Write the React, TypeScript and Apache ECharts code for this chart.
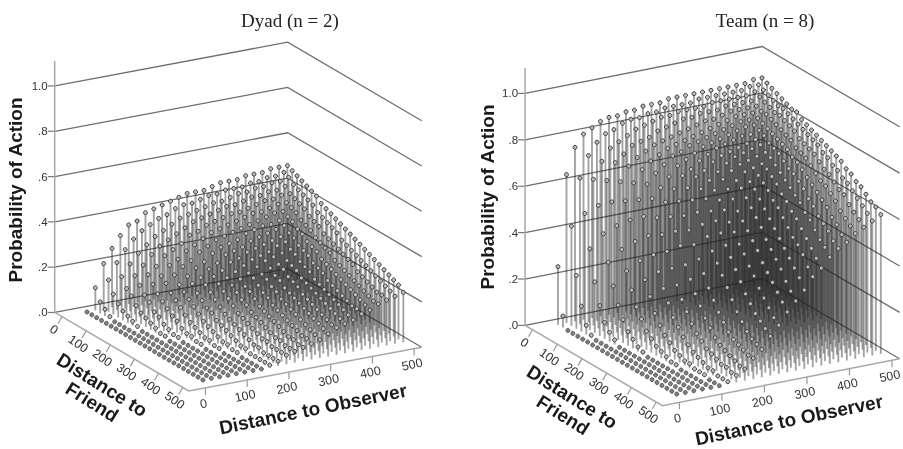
import React, { useEffect, useRef } from "react";
import * as echarts from "echarts";

// Probability of action, in percent. One row per observer distance (20..500), one column per friend distance (0..480).
const observerSteps = [20,40,60,80,100,120,140,160,180,200,220,240,260,280,300,320,340,360,380,400,420,440,460,480,500];
const friendSteps = [0,20,40,60,80,100,120,140,160,180,200,220,240,260,280,300,320,340,360,380,400,420,440,460,480];

const dyadValues = [
[0,0,0,0,0,0,0,0,0,0,0,0,0,0,0,0,0,0,0,0,0,0,0,0,0],
[10,5,3,1,0,0,0,0,0,0,0,0,0,0,0,0,0,0,0,0,0,0,0,0,0],
[20,14,9,6,4,3,2,1,0,0,0,0,0,0,0,0,0,0,0,0,0,0,0,0,0],
[26,21,16,12,10,7,5,4,3,2,1,1,0,0,0,0,0,0,0,0,0,0,0,0,0],
[31,26,21,17,14,11,9,6,5,3,2,1,1,0,0,0,0,0,0,0,0,0,0,0,0],
[35,30,25,21,18,15,12,10,8,6,5,3,2,2,1,1,0,0,0,0,0,0,0,0,0],
[36,33,28,25,21,18,16,13,11,9,7,5,4,3,2,2,1,1,0,0,0,0,0,0,0],
[39,35,31,28,25,22,19,16,14,12,10,8,6,5,4,3,2,2,1,1,0,0,0,0,0],
[40,37,33,30,27,24,22,19,17,14,12,10,9,7,6,5,4,3,2,2,1,1,1,1,1],
[41,38,35,32,29,27,24,22,19,17,15,13,11,9,8,7,6,5,4,3,3,2,2,2,2],
[42,40,37,34,32,29,27,24,22,20,18,16,14,12,10,9,8,7,6,5,5,4,4,4,4],
[43,41,38,36,33,31,29,27,24,22,20,18,16,14,13,11,10,9,8,7,6,6,5,5,5],
[44,41,39,37,35,33,31,29,27,25,22,20,18,17,15,13,12,11,10,9,8,7,7,6,6],
[44,42,40,38,36,34,32,30,28,26,24,22,21,19,17,16,14,13,12,11,10,9,8,8,7],
[44,43,41,39,37,35,33,31,29,28,26,24,22,21,19,18,16,15,14,13,12,11,10,9,8],
[45,43,41,40,38,36,34,33,31,29,27,26,24,22,21,19,18,17,16,15,14,13,12,11,10],
[46,44,42,40,38,37,35,34,32,30,28,27,25,24,22,21,20,18,17,16,15,14,13,12,12],
[46,44,43,41,39,38,36,35,33,31,30,28,26,25,24,22,21,20,19,18,17,16,15,14,13],
[46,44,43,42,40,38,37,35,34,32,31,29,28,26,25,24,22,21,20,19,18,17,16,15,14],
[47,45,44,42,41,39,38,36,35,33,32,30,29,28,26,25,24,22,21,20,19,18,17,17,16],
[47,45,44,43,41,40,38,37,36,34,33,31,30,29,27,26,25,24,23,22,21,20,19,18,17],
[47,46,45,43,42,40,39,38,36,35,34,32,31,30,29,27,26,25,24,23,22,21,20,19,19],
[48,46,45,44,42,41,40,39,37,36,35,33,32,31,30,29,28,27,25,24,23,22,21,21,20],
[48,47,46,44,43,42,41,40,38,37,36,35,34,32,31,30,29,28,27,26,25,24,23,22,21],
[48,47,46,45,44,43,42,40,39,38,37,36,35,34,33,32,31,30,29,28,27,26,25,24,22],
];

const teamValues = [
[25,5,0,0,0,0,0,0,0,0,0,0,0,0,0,0,0,0,0,0,0,0,0,0,0],
[64,43,23,11,4,1,0,0,0,0,0,0,0,0,0,0,0,0,0,0,0,0,0,0,0],
[75,63,49,35,22,13,7,4,2,0,0,0,0,0,0,0,0,0,0,0,0,0,0,0,0],
[80,72,63,53,42,31,22,15,10,6,4,2,1,0,0,0,0,0,0,0,0,0,0,0,0],
[82,77,70,63,55,46,37,29,22,16,12,8,6,4,3,2,1,1,0,0,0,0,0,0,0],
[84,80,75,70,63,56,49,41,34,27,21,15,11,8,6,4,3,2,2,1,1,1,0,0,0],
[85,81,77,73,69,63,57,51,44,37,31,25,20,15,12,9,7,5,4,3,2,2,1,1,1],
[85,83,79,76,72,68,63,58,51,45,39,33,27,22,18,14,11,9,7,6,5,4,4,3,3],
[86,84,81,77,74,71,67,62,57,52,47,42,35,30,25,21,17,14,11,9,8,7,6,5,5],
[86,84,82,78,76,73,70,66,62,58,53,48,43,38,33,28,24,20,17,14,12,11,10,9,9],
[87,85,83,80,77,75,73,70,67,63,59,55,51,47,42,38,34,30,26,22,19,16,14,13,12],
[87,85,84,81,78,76,74,72,69,67,63,60,56,53,49,45,41,37,33,29,26,23,21,19,17],
[87,86,84,82,79,77,76,74,72,69,66,63,60,57,53,50,46,43,39,36,32,29,26,23,21],
[88,86,85,83,80,78,77,76,74,72,69,67,64,61,57,54,51,48,45,41,38,35,32,29,26],
[88,86,85,83,81,79,78,77,76,74,72,70,67,65,62,59,56,53,49,46,43,40,36,33,30],
[88,86,85,84,82,80,79,78,77,75,74,72,70,67,65,62,59,56,53,50,47,44,41,38,34],
[88,87,85,84,82,81,80,79,78,76,75,73,71,69,67,65,62,60,57,54,51,49,46,42,39],
[88,87,86,84,83,82,81,80,79,77,76,74,72,71,69,67,64,62,59,57,54,51,48,45,42],
[88,87,86,85,84,83,82,81,79,78,77,75,74,72,70,68,66,64,62,59,57,54,51,49,46],
[88,87,86,85,84,83,82,81,80,79,77,76,75,73,71,70,68,66,63,61,58,56,54,51,49],
[88,87,86,85,84,83,82,81,80,79,78,77,76,74,73,71,69,67,65,63,61,58,56,53,51],
[88,87,86,85,84,83,83,82,81,80,79,78,76,75,74,72,70,68,67,65,63,60,58,56,54],
[88,88,87,86,85,84,83,83,82,81,80,78,77,76,75,73,71,70,68,66,65,62,60,58,56],
[89,88,87,86,85,84,84,83,82,81,80,79,78,77,75,74,72,71,69,68,66,64,62,60,58],
[89,88,87,86,85,84,83,83,81,80,79,78,77,76,75,74,73,71,70,68,67,65,63,62,60],
];

const probabilityTicks = [0, 0.2, 0.4, 0.6, 0.8, 1];
const probabilityLabels = [".0", ".2", ".4", ".6", ".8", "1.0"];
const distanceTicks = [0, 100, 200, 300, 400, 500];
const panelTitles = ["Dyad (n = 2)", "Team (n = 8)"];

// Oblique projection of each panel's 3-D box on to the page.
const projections = [
  { x0: 78.65, y0: 313.57, fx: 0.2415, fy: 0.1415, ox: 0.4175, oy: -0.0785, zu: 226.5 },
  { x0: 549.5, y0: 326.4, fx: 0.2475, fy: 0.1445, ox: 0.425, oy: -0.084, zu: 232 },
];
const box = { fMin: -30, fMax: 525, oMin: -40, oMax: 518, zMax: 1.11 };
const textPlacement = [
  { side: [15, 190], friendA: [102, 385], friendB: [92, 402], observer: [313, 409], title: [290, 20] },
  { side: [487, 197], friendA: [572, 397], friendB: [563, 415], observer: [789, 420], title: [765, 20] },
];

const project = (p: number, f: number, o: number, z: number): [number, number] => {
  const m = projections[p];
  return [m.x0 + m.fx * f + m.ox * o, m.y0 + m.fy * f + m.oy * o - m.zu * z];
};

const rad = (d: number) => (d * Math.PI) / 180;
const panels = [dyadValues, teamValues];

const stemData: number[][] = [];
panels.forEach((vals, p) => {
  friendSteps.forEach((f, j) => {
    for (let i = observerSteps.length - 1; i >= 0; i--) {
      stemData.push([p, f, observerSteps[i], vals[i][j] / 100]);
    }
  });
});

const silentCustom = (name: string, data: any[], renderItem: any) => ({
  type: "custom",
  name,
  silent: true,
  clip: false,
  coordinateSystem: "cartesian2d",
  data,
  encode: { x: 0, y: 1 },
  renderItem,
});

export default function App() {
  const ref = useRef<HTMLDivElement>(null);
  useEffect(() => {
    const chart = echarts.init(ref.current!, null, { renderer: "svg" });
    const pt = (api: any, c: [number, number]) => api.coord(c);

    const gridData: number[][] = [];
    [0, 1].forEach((p) => probabilityTicks.forEach((z) => gridData.push([p, z])));

    const frameSeries = silentCustom("frame", [[0], [1]], (_: any, api: any) => {
      const p = api.value(0);
      const a = pt(api, project(p, box.fMin, box.oMin, 0));
      const b = pt(api, project(p, box.fMax, box.oMin, 0));
      const c = pt(api, project(p, box.fMax, box.oMax, 0));
      const top = pt(api, project(p, box.fMin, box.oMin, box.zMax));
      return {
        type: "group",
        children: [
          { type: "polyline", shape: { points: [a, b, c] }, style: { stroke: "#a8a8a8", lineWidth: 1.5, fill: "none" } },
          { type: "line", shape: { x1: a[0], y1: a[1], x2: top[0], y2: top[1] }, style: { stroke: "#a8a8a8", lineWidth: 1.5 } },
        ],
      };
    });

    const gridSeries = silentCustom("walls", gridData, (_: any, api: any) => {
      const p = api.value(0);
      const z = api.value(1);
      const a = pt(api, project(p, box.fMin, box.oMin, z));
      const b = pt(api, project(p, box.fMin, box.oMax, z));
      const c = pt(api, project(p, box.fMax, box.oMax, z));
      return {
        type: "group",
        children: [
          { type: "polyline", shape: { points: [a, b, c] }, style: { stroke: "#6e6e6e", lineWidth: 1.3, fill: "none" } },
          { type: "line", shape: { x1: a[0] - 7, y1: a[1], x2: a[0], y2: a[1] }, style: { stroke: "#777", lineWidth: 1.2 } },
          {
            type: "text",
            x: a[0] - 7,
            y: a[1],
            style: {
              text: probabilityLabels[probabilityTicks.indexOf(z)],
              fill: "#333",
              font: "11.5px 'Liberation Sans'",
              align: "right",
              verticalAlign: "middle",
            },
          },
        ],
      };
    });

    const stemSeries = silentCustom("stems", stemData, (_: any, api: any) => {
      const p = api.value(0), f = api.value(1), o = api.value(2), z = api.value(3);
      const a = pt(api, project(p, f, o, 0));
      const b = pt(api, project(p, f, o, z));
      return {
        type: "line",
        shape: { x1: a[0], y1: a[1], x2: b[0], y2: b[1] },
        style: { stroke: "rgba(35,35,35,0.42)", lineWidth: 1.9 },
      };
    });

    const dotSeries = silentCustom("dots", stemData, (_: any, api: any) => {
      const p = api.value(0), f = api.value(1), o = api.value(2), z = api.value(3);
      const b = pt(api, project(p, f, o, z));
      return {
        type: "circle",
        shape: { cx: b[0], cy: b[1], r: 2 },
        style: { fill: z <= 0.005 ? "#808080" : "#bdbdbd", stroke: z <= 0.005 ? "#5a5a5a" : "#3a3a3a", lineWidth: 1 },
      };
    });

    const tickData: number[][] = [];
    [0, 1].forEach((p) => distanceTicks.forEach((d) => tickData.push([p, d])));
    const tickSeries = silentCustom("distance ticks", tickData, (_: any, api: any) => {
      const p = api.value(0), d = api.value(1);
      const fa = pt(api, project(p, d, box.oMin, 0));
      const oa = pt(api, project(p, box.fMax, d, 0));
      const labelStyle = { text: String(d), fill: "#333", font: "12.5px 'Liberation Sans'", align: "center", verticalAlign: "middle" };
      return {
        type: "group",
        children: [
          { type: "line", shape: { x1: fa[0], y1: fa[1], x2: fa[0] - 4, y2: fa[1] + 7 }, style: { stroke: "#999", lineWidth: 1.2 } },
          { type: "line", shape: { x1: oa[0], y1: oa[1], x2: oa[0], y2: oa[1] + 7 }, style: { stroke: "#999", lineWidth: 1.2 } },
          { type: "text", x: fa[0] - 8, y: fa[1] + 13, rotation: rad(-35), style: labelStyle },
          { type: "text", x: oa[0] - 2, y: oa[1] + 16, rotation: rad(12), style: labelStyle },
        ],
      };
    });

    const boldLabel = (text: string, at: number[], deg: number, api: any) => {
      const c = api.coord(at);
      return {
        type: "text",
        x: c[0],
        y: c[1],
        rotation: rad(deg),
        style: { text, fill: "#1a1a1a", font: "bold 19px 'Liberation Sans'", align: "center", verticalAlign: "middle" },
      };
    };
    const textSeries = silentCustom("axis names", [[0], [1]], (_: any, api: any) => {
      const t = textPlacement[api.value(0)];
      return {
        type: "group",
        children: [
          boldLabel("Probability of Action", t.side, 90, api),
          boldLabel("Distance to", t.friendA, -32, api),
          boldLabel("Friend", t.friendB, -32, api),
          boldLabel("Distance to Observer", t.observer, 11.5, api),
        ],
      };
    });

    chart.setOption({
      animation: false,
      backgroundColor: "#ffffff",
      title: panelTitles.map((text, p) => ({
        text,
        padding: 0,
        left: textPlacement[p].title[0],
        top: textPlacement[p].title[1],
        textAlign: "center",
        textVerticalAlign: "middle",
        textStyle: { fontFamily: "'Liberation Serif'", fontSize: 19, fontWeight: "normal", color: "#222" },
      })),
      grid: { left: 0, right: 0, top: 0, bottom: 0 },
      xAxis: { type: "value", min: 0, max: 903, show: false },
      yAxis: { type: "value", min: 0, max: 449, inverse: true, show: false },
      series: [gridSeries, frameSeries, stemSeries, dotSeries, tickSeries, textSeries],
    });
    return () => chart.dispose();
  }, []);
  return (
    <div
      ref={ref}
      style={{ position: "absolute", left: 0, top: 0, width: 903, height: 449, filter: "blur(0.4px)" }}
    />
  );
}
